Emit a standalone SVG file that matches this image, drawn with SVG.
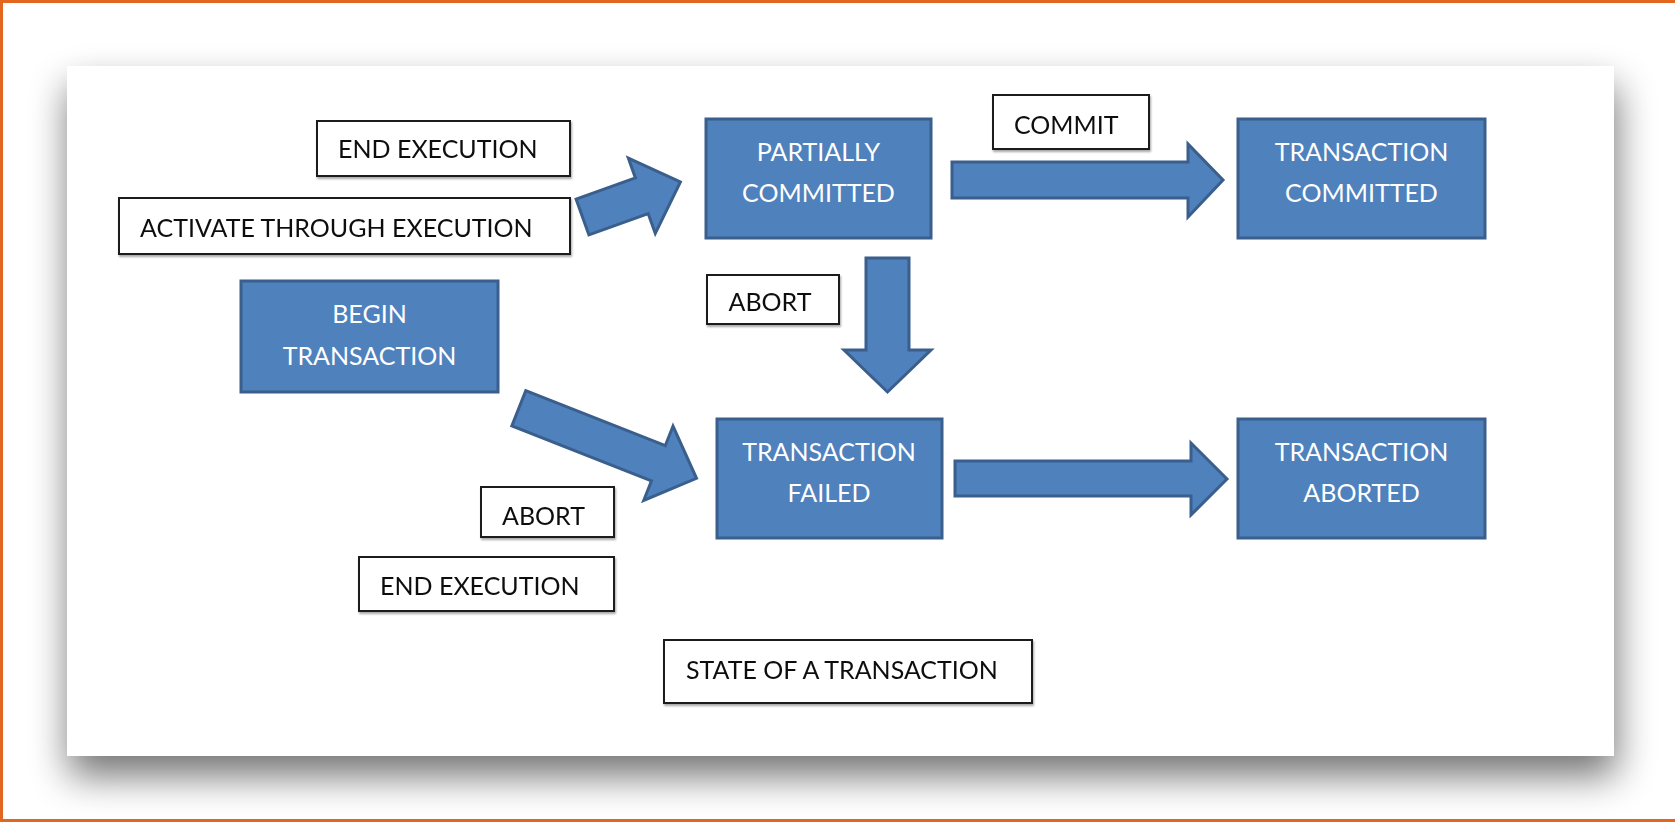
<svg xmlns="http://www.w3.org/2000/svg" width="1675" height="822" viewBox="0 0 1675 822">
<style>
.node rect{fill:#4f81bd;stroke:#3a5f8c;stroke-width:3}
.node text{fill:#ffffff;font-family:Lato,"Liberation Sans",sans-serif;font-size:25px;text-anchor:middle}
.lbl rect{fill:#ffffff;stroke:#1a1a1a;stroke-width:2}
.lbl text{fill:#111111;font-family:Lato,"Liberation Sans",sans-serif;font-size:25px}
.arrow{fill:#4f81bd;stroke:#3a5f8c;stroke-width:3;stroke-linejoin:miter}
</style>
<defs>
<filter id="pageShadow" x="-10%" y="-20%" width="120%" height="145%">
<feGaussianBlur in="SourceAlpha" stdDeviation="19"/>
<feOffset dx="2" dy="20" result="b"/>
<feComponentTransfer><feFuncA type="linear" slope="0.55"/></feComponentTransfer>
<feMerge><feMergeNode/><feMergeNode in="SourceGraphic"/></feMerge>
</filter>
<filter id="lblShadow" x="-5%" y="-10%" width="110%" height="130%">
<feGaussianBlur in="SourceAlpha" stdDeviation="1.2"/>
<feOffset dx="1" dy="2"/>
<feComponentTransfer><feFuncA type="linear" slope="0.35"/></feComponentTransfer>
<feMerge><feMergeNode/><feMergeNode in="SourceGraphic"/></feMerge>
</filter>
</defs>
<rect x="0" y="0" width="1675" height="822" fill="#ffffff"/>
<path d="M1675,1.5 H1.5 V820.5 H1675" fill="none" stroke="#e2661f" stroke-width="3"/>
<rect id="page" x="67" y="66" width="1547" height="690" fill="#ffffff" filter="url(#pageShadow)"/>

<g id="connectors">
<path class="arrow" d="M0,-19 L63,-19 L63,-40 L104,0 L63,40 L63,19 L0,19 Z" transform="translate(582.5,217) rotate(-19.7)"/>
<polygon class="arrow" points="952,162 1188,162 1188,144 1223,180 1188,217 1188,198 952,198"/>
<polygon class="arrow" points="866,258 909,258 909,350 931,350 887.5,392 844,350 866,350"/>
<path class="arrow" d="M0,-19 L150,-19 L150,-40 L191,0 L150,40 L150,19 L0,19 Z" transform="translate(518.8,408.3) rotate(21.5)"/>
<polygon class="arrow" points="955,461 1191,461 1191,443 1227,479 1191,515 1191,496 955,496"/>
</g>

<g id="partially-committed" class="node">
<rect x="706" y="119" width="225" height="119"/>
<text x="818.5" y="161">PARTIALLY</text>
<text x="818.5" y="202">COMMITTED</text>
</g>
<g id="transaction-committed" class="node">
<rect x="1238" y="119" width="247" height="119"/>
<text x="1361.5" y="161">TRANSACTION</text>
<text x="1361.5" y="202">COMMITTED</text>
</g>
<g id="begin-transaction" class="node">
<rect x="241" y="281" width="257" height="111"/>
<text x="369.5" y="323">BEGIN</text>
<text x="369.5" y="365">TRANSACTION</text>
</g>
<g id="transaction-failed" class="node">
<rect x="717" y="419" width="225" height="119"/>
<text x="829" y="461">TRANSACTION</text>
<text x="829" y="502">FAILED</text>
</g>
<g id="transaction-aborted" class="node">
<rect x="1238" y="419" width="247" height="119"/>
<text x="1361.5" y="461">TRANSACTION</text>
<text x="1361.5" y="502">ABORTED</text>
</g>

<g id="label-end-execution-top" class="lbl" filter="url(#lblShadow)">
<rect x="317" y="121" width="253" height="55"/>
<text x="338" y="158">END EXECUTION</text>
</g>
<g id="label-activate" class="lbl" filter="url(#lblShadow)">
<rect x="119" y="198" width="451" height="56"/>
<text x="140" y="237">ACTIVATE THROUGH EXECUTION</text>
</g>
<g id="label-commit" class="lbl" filter="url(#lblShadow)">
<rect x="993" y="95" width="156" height="54"/>
<text x="1014" y="134">COMMIT</text>
</g>
<g id="label-abort-top" class="lbl" filter="url(#lblShadow)">
<rect x="707" y="275" width="132" height="49"/>
<text x="728.5" y="310.5">ABORT</text>
</g>
<g id="label-abort-bottom" class="lbl" filter="url(#lblShadow)">
<rect x="481" y="487" width="133" height="50"/>
<text x="502" y="525">ABORT</text>
</g>
<g id="label-end-execution-bottom" class="lbl" filter="url(#lblShadow)">
<rect x="359" y="557" width="255" height="54"/>
<text x="380" y="594.5">END EXECUTION</text>
</g>
<g id="label-state" class="lbl" filter="url(#lblShadow)">
<rect x="664" y="640" width="368" height="63"/>
<text x="686" y="679">STATE OF A TRANSACTION</text>
</g>
</svg>
